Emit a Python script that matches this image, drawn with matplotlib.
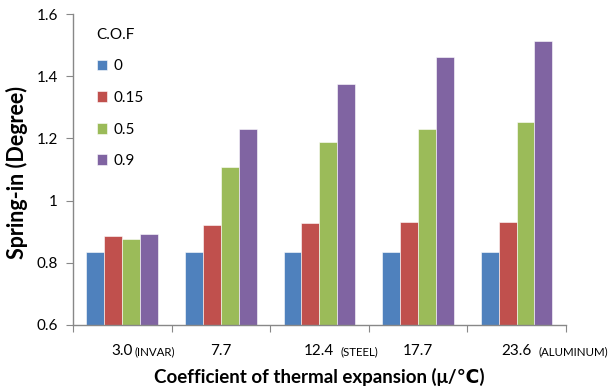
import matplotlib.pyplot as plt
import numpy as np

plt.rcParams['font.family'] = ['Lato', 'DejaVu Sans']

# data
categories = ['3.0', '7.7', '12.4', '17.7', '23.6']
materials = ['(INVAR)', '', '(STEEL)', '', '(ALUMINUM)']
cof_labels = ['0', '0.15', '0.5', '0.9']
spring_in = [
    [0.834, 0.836, 0.836, 0.836, 0.836],   # C.O.F 0
    [0.887, 0.922, 0.929, 0.931, 0.931],   # 0.15
    [0.876, 1.107, 1.189, 1.230, 1.253],   # 0.5
    [0.894, 1.230, 1.376, 1.463, 1.514],   # 0.9
]
colors = ['#4F81BD', '#C0504D', '#9BBB59', '#8064A2']

fig = plt.figure(figsize=(6.11, 3.91), dpi=100)
ax = fig.add_axes([0.1195, 0.1688, 0.8065, 0.7952])

x = np.arange(len(categories))
bw = 1 / 5.5
for i, (vals, c, lab) in enumerate(zip(spring_in, colors, cof_labels)):
    ax.bar(x + (i - 1.5) * bw, vals, width=bw, color=c, label=lab,
           edgecolor='white', linewidth=0.4)

ax.set_ylim(0.6, 1.6)
ax.set_yticks([0.6, 0.8, 1.0, 1.2, 1.4, 1.6])
ax.set_yticklabels(['0.6', '0.8', '1', '1.2', '1.4', '1.6'], fontsize=11)
ax.set_xlim(-0.5, len(categories) - 0.5)

# separators between groups as ticks; category text drawn below
ax.set_xticks(np.arange(len(categories) + 1) - 0.5)
ax.set_xticklabels([])
ax.tick_params(axis='x', length=5, color='#888888', direction='out')
ax.tick_params(axis='y', length=5, color='#888888', direction='out', pad=6)

for s in ['top', 'right']:
    ax.spines[s].set_visible(False)
for s in ['left', 'bottom']:
    ax.spines[s].set_color('#888888')
    ax.spines[s].set_linewidth(1.0)

offsets = [12, 0, 21, 0, 22]
for xi, cat, m, off in zip(x, categories, materials, offsets):
    ax.annotate(cat, xy=(xi, 0), xycoords=('data', 'axes fraction'),
                xytext=(0, -30), textcoords='offset pixels',
                ha='center', va='baseline', fontsize=11)
    if m:
        ax.annotate(m, xy=(xi, 0), xycoords=('data', 'axes fraction'),
                    xytext=(off, -30), textcoords='offset pixels',
                    ha='left', va='baseline', fontsize=8.3)

ax.set_ylabel('Spring-in (Degree)', fontsize=15.5, fontweight='bold')
ax.yaxis.set_label_coords(-0.114, 0.49)
ax.yaxis.label.set_va('center')
ax.set_xlabel('Coefficient of thermal expansion (μ/℃)', fontsize=13.5,
              fontweight='bold')
ax.xaxis.set_label_coords(0.5, -0.138)
ax.xaxis.label.set_va('top')

leg = ax.legend(title='C.O.F', loc='upper left', bbox_to_anchor=(0.02, 1.0),
                frameon=False, fontsize=11, title_fontsize=11,
                handlelength=0.7, handleheight=0.7, handletextpad=0.4,
                labelspacing=1.15)
leg._legend_box.align = 'left'

plt.savefig('out.png', dpi=100)
